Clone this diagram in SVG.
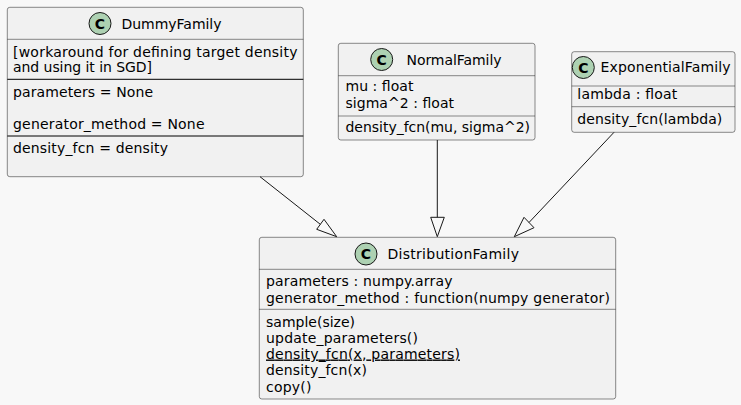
<svg xmlns="http://www.w3.org/2000/svg" width="741" height="405" viewBox="0 0 741 405">
<style>
text{font-family:"DejaVu Sans","Liberation Sans",sans-serif;font-size:14px;fill:#000}
.box{fill:#F1F1F1;stroke:#181818;stroke-width:0.5}
.sep{stroke:#181818;stroke-width:0.5}
.sepb{stroke:#000;stroke-width:1}
.circ{fill:#ADD1B2;stroke:#181818;stroke-width:1}
.cl{font-weight:bold;font-size:14px}
.edge{fill:none;stroke:#181818;stroke-width:1}
.head{fill:none;stroke:#181818;stroke-width:1}
</style>
<rect width="741" height="405" fill="#F8F8F8"/>
<g id="DummyFamily">
<rect class="box" x="7.3" y="7.3" width="296" height="169.4" rx="2.5"/>
<circle class="circ" cx="100" cy="23.5" r="11"/>
<text class="cl" x="100" y="28.5" text-anchor="middle">C</text>
<text x="121.5" y="28.5" textLength="100" lengthAdjust="spacing">DummyFamily</text>
<line class="sep" x1="7.3" y1="39.3" x2="303.3" y2="39.3"/>
<text x="13" y="56.5" textLength="284.5" lengthAdjust="spacing">[workaround for defining target density</text>
<text x="13" y="72" textLength="139" lengthAdjust="spacing">and using it in SGD]</text>
<line class="sepb" x1="7.3" y1="79.3" x2="303.3" y2="79.3"/>
<text x="13" y="96.5" textLength="140" lengthAdjust="spacing">parameters = None</text>
<text x="13" y="129" textLength="191.5" lengthAdjust="spacing">generator_method = None</text>
<line class="sepb" x1="7.3" y1="136" x2="303.3" y2="136"/>
<text x="13" y="152.5" textLength="155" lengthAdjust="spacing">density_fcn = density</text>
</g>
<g id="NormalFamily">
<rect class="box" x="338.3" y="43.3" width="196.7" height="96.7" rx="2.5"/>
<circle class="circ" cx="381.7" cy="59.5" r="11"/>
<text class="cl" x="381.7" y="64.5" text-anchor="middle">C</text>
<text x="406.5" y="64.5" textLength="95" lengthAdjust="spacing">NormalFamily</text>
<line class="sep" x1="338.3" y1="75.7" x2="535" y2="75.7"/>
<text x="345.5" y="91" textLength="68" lengthAdjust="spacing">mu : float</text>
<text x="345.5" y="108" textLength="108.5" lengthAdjust="spacing">sigma^2 : float</text>
<line class="sep" x1="338.3" y1="116" x2="535" y2="116"/>
<text x="345.5" y="131.5" textLength="184.5" lengthAdjust="spacing">density_fcn(mu, sigma^2)</text>
</g>
<g id="ExponentialFamily">
<rect class="box" x="571.7" y="51.7" width="163.3" height="80.6" rx="2.5"/>
<circle class="circ" cx="583.3" cy="67.5" r="11"/>
<text class="cl" x="583.3" y="72.5" text-anchor="middle">C</text>
<text x="600.5" y="72" textLength="130" lengthAdjust="spacing">ExponentialFamily</text>
<line class="sep" x1="571.7" y1="86" x2="735" y2="86"/>
<text x="577.3" y="98.5" textLength="100" lengthAdjust="spacing">lambda : float</text>
<line class="sep" x1="571.7" y1="106.7" x2="735" y2="106.7"/>
<text x="577.3" y="123.5" textLength="145" lengthAdjust="spacing">density_fcn(lambda)</text>
</g>
<g id="DistributionFamily">
<rect class="box" x="259.3" y="237.3" width="356.4" height="161.7" rx="2.5"/>
<circle class="circ" cx="366" cy="254" r="11"/>
<text class="cl" x="366" y="259" text-anchor="middle">C</text>
<text x="387.5" y="258.5" textLength="131.5" lengthAdjust="spacing">DistributionFamily</text>
<line class="sep" x1="259.3" y1="269.3" x2="615.7" y2="269.3"/>
<text x="266" y="286" textLength="186.5" lengthAdjust="spacing">parameters : numpy.array</text>
<text x="266" y="302.7" textLength="344" lengthAdjust="spacing">generator_method : function(numpy generator)</text>
<line class="sep" x1="259.3" y1="309.3" x2="615.7" y2="309.3"/>
<text x="266" y="326.7" textLength="89" lengthAdjust="spacing">sample(size)</text>
<text x="266" y="343.3" textLength="152" lengthAdjust="spacing">update_parameters()</text>
<text x="266" y="358.5" textLength="194" lengthAdjust="spacing" text-decoration="underline">density_fcn(x, parameters)</text>
<text x="266" y="375" textLength="101" lengthAdjust="spacing">density_fcn(x)</text>
<text x="266" y="391.7" textLength="45.5" lengthAdjust="spacing">copy()</text>
</g>
<g id="connectors">
<path class="edge" d="M260,176.7 L320.3,224.3"/>
<polygon class="head" points="336.7,236.7 324,219.3 316.7,229.3"/>
<path class="edge" d="M437.3,140 L437.3,217.3"/>
<polygon class="head" points="437.3,236.7 430.7,217.3 444.3,217.3"/>
<path class="edge" d="M614,132.3 L529,222.5"/>
<polygon class="head" points="514.3,236.7 524,217.3 534,227.7"/>
</g>
</svg>
